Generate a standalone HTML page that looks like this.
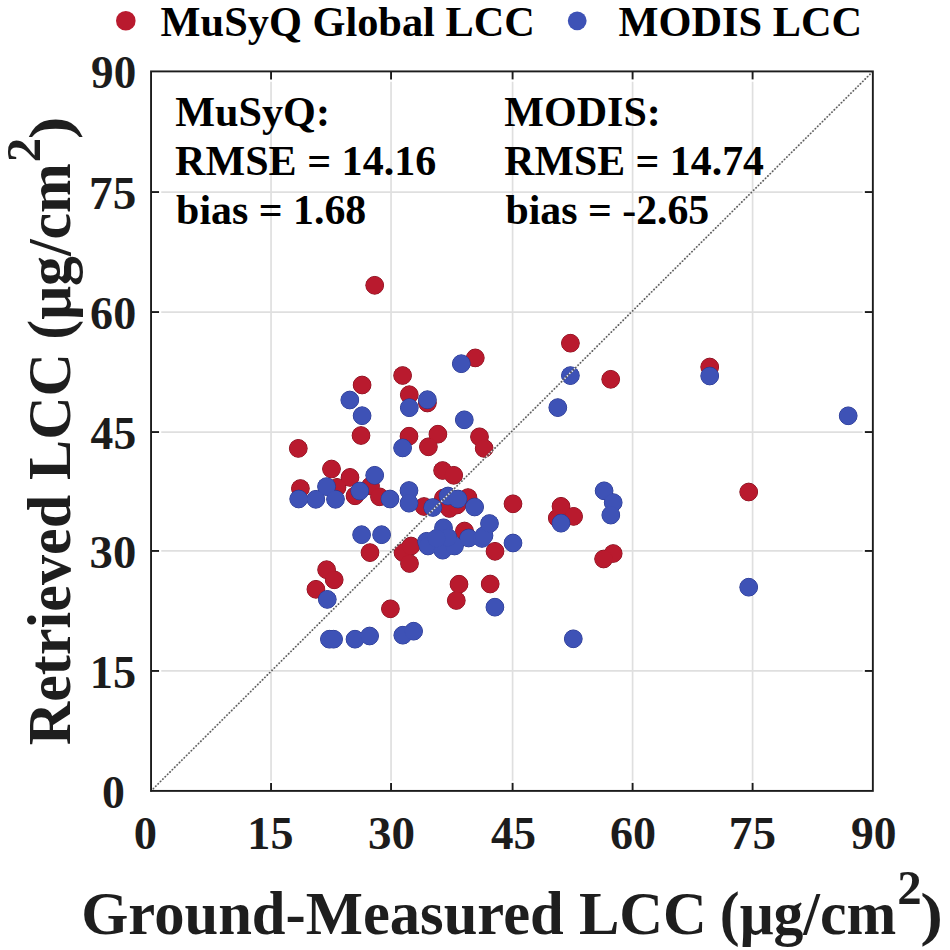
<!DOCTYPE html><html><head><meta charset="utf-8"><style>html,body{margin:0;padding:0;background:#fff;overflow:hidden}svg{display:block}text{font-family:"Liberation Serif",serif;font-weight:bold}</style></head><body><svg width="950" height="950" viewBox="0 0 950 950"><rect width="950" height="950" fill="#fff"/><g stroke="#dfdfdf" stroke-width="1.7"><line x1="271.05" y1="81.7" x2="271.05" y2="780.6999999999999"/><line x1="161.25" y1="670.95" x2="862.65" y2="670.95"/><line x1="391.05" y1="81.7" x2="391.05" y2="780.6999999999999"/><line x1="161.25" y1="550.95" x2="862.65" y2="550.95"/><line x1="512.6" y1="81.7" x2="512.6" y2="780.6999999999999"/><line x1="161.25" y1="432.05" x2="862.65" y2="432.05"/><line x1="632.6" y1="81.7" x2="632.6" y2="780.6999999999999"/><line x1="161.25" y1="312.05" x2="862.65" y2="312.05"/><line x1="752.6" y1="81.7" x2="752.6" y2="780.6999999999999"/><line x1="161.25" y1="192.05" x2="862.65" y2="192.05"/></g><g fill="#7e0e1c" stroke="#7e0e1c" stroke-width="1.0"><circle cx="374.7" cy="285.3" r="8.85"/><circle cx="362.1" cy="385" r="8.85"/><circle cx="402.6" cy="375.5" r="8.85"/><circle cx="409.3" cy="394.7" r="8.85"/><circle cx="427.4" cy="403" r="8.85"/><circle cx="475.3" cy="357.9" r="8.85"/><circle cx="361" cy="435.5" r="8.85"/><circle cx="409" cy="436.2" r="8.85"/><circle cx="437.9" cy="434.2" r="8.85"/><circle cx="428.4" cy="446.8" r="8.85"/><circle cx="479.5" cy="436.8" r="8.85"/><circle cx="484.2" cy="448.4" r="8.85"/><circle cx="298.3" cy="448.4" r="8.85"/><circle cx="331.5" cy="469" r="8.85"/><circle cx="350" cy="477.4" r="8.85"/><circle cx="300.4" cy="488.5" r="8.85"/><circle cx="337" cy="487.4" r="8.85"/><circle cx="370.5" cy="486" r="8.85"/><circle cx="355" cy="495.8" r="8.85"/><circle cx="379.5" cy="496.8" r="8.85"/><circle cx="424" cy="506.5" r="8.85"/><circle cx="442.6" cy="470.5" r="8.85"/><circle cx="453.7" cy="475.3" r="8.85"/><circle cx="443.5" cy="498" r="8.85"/><circle cx="468" cy="497.6" r="8.85"/><circle cx="449.4" cy="508.5" r="8.85"/><circle cx="457" cy="505" r="8.85"/><circle cx="513" cy="503.8" r="8.85"/><circle cx="464.5" cy="531" r="8.85"/><circle cx="495" cy="551.3" r="8.85"/><circle cx="370" cy="552.6" r="8.85"/><circle cx="403" cy="552.6" r="8.85"/><circle cx="411" cy="546" r="8.85"/><circle cx="409.5" cy="563.5" r="8.85"/><circle cx="459" cy="584.2" r="8.85"/><circle cx="456.3" cy="600.5" r="8.85"/><circle cx="490.2" cy="584" r="8.85"/><circle cx="390.4" cy="608.8" r="8.85"/><circle cx="326.6" cy="569.7" r="8.85"/><circle cx="334.2" cy="579.8" r="8.85"/><circle cx="315.9" cy="589.3" r="8.85"/><circle cx="561" cy="506.3" r="8.85"/><circle cx="573.6" cy="516.4" r="8.85"/><circle cx="557.3" cy="518.1" r="8.85"/><circle cx="613.2" cy="553.5" r="8.85"/><circle cx="603.6" cy="559" r="8.85"/><circle cx="570.4" cy="343.2" r="8.85"/><circle cx="610.7" cy="379.3" r="8.85"/><circle cx="709.7" cy="367" r="8.85"/><circle cx="748.7" cy="492" r="8.85"/></g><g fill="#b91a2e"><circle cx="374.7" cy="285.3" r="8.85"/><circle cx="362.1" cy="385" r="8.85"/><circle cx="402.6" cy="375.5" r="8.85"/><circle cx="409.3" cy="394.7" r="8.85"/><circle cx="427.4" cy="403" r="8.85"/><circle cx="475.3" cy="357.9" r="8.85"/><circle cx="361" cy="435.5" r="8.85"/><circle cx="409" cy="436.2" r="8.85"/><circle cx="437.9" cy="434.2" r="8.85"/><circle cx="428.4" cy="446.8" r="8.85"/><circle cx="479.5" cy="436.8" r="8.85"/><circle cx="484.2" cy="448.4" r="8.85"/><circle cx="298.3" cy="448.4" r="8.85"/><circle cx="331.5" cy="469" r="8.85"/><circle cx="350" cy="477.4" r="8.85"/><circle cx="300.4" cy="488.5" r="8.85"/><circle cx="337" cy="487.4" r="8.85"/><circle cx="370.5" cy="486" r="8.85"/><circle cx="355" cy="495.8" r="8.85"/><circle cx="379.5" cy="496.8" r="8.85"/><circle cx="424" cy="506.5" r="8.85"/><circle cx="442.6" cy="470.5" r="8.85"/><circle cx="453.7" cy="475.3" r="8.85"/><circle cx="443.5" cy="498" r="8.85"/><circle cx="468" cy="497.6" r="8.85"/><circle cx="449.4" cy="508.5" r="8.85"/><circle cx="457" cy="505" r="8.85"/><circle cx="513" cy="503.8" r="8.85"/><circle cx="464.5" cy="531" r="8.85"/><circle cx="495" cy="551.3" r="8.85"/><circle cx="370" cy="552.6" r="8.85"/><circle cx="403" cy="552.6" r="8.85"/><circle cx="411" cy="546" r="8.85"/><circle cx="409.5" cy="563.5" r="8.85"/><circle cx="459" cy="584.2" r="8.85"/><circle cx="456.3" cy="600.5" r="8.85"/><circle cx="490.2" cy="584" r="8.85"/><circle cx="390.4" cy="608.8" r="8.85"/><circle cx="326.6" cy="569.7" r="8.85"/><circle cx="334.2" cy="579.8" r="8.85"/><circle cx="315.9" cy="589.3" r="8.85"/><circle cx="561" cy="506.3" r="8.85"/><circle cx="573.6" cy="516.4" r="8.85"/><circle cx="557.3" cy="518.1" r="8.85"/><circle cx="613.2" cy="553.5" r="8.85"/><circle cx="603.6" cy="559" r="8.85"/><circle cx="570.4" cy="343.2" r="8.85"/><circle cx="610.7" cy="379.3" r="8.85"/><circle cx="709.7" cy="367" r="8.85"/><circle cx="748.7" cy="492" r="8.85"/></g><g fill="#27358c" stroke="#27358c" stroke-width="1.0"><circle cx="349.8" cy="400" r="8.85"/><circle cx="362.1" cy="415.7" r="8.85"/><circle cx="409.3" cy="407.7" r="8.85"/><circle cx="427.4" cy="399.7" r="8.85"/><circle cx="461.3" cy="363.7" r="8.85"/><circle cx="464.3" cy="419.8" r="8.85"/><circle cx="402.6" cy="447.9" r="8.85"/><circle cx="374.7" cy="475.3" r="8.85"/><circle cx="326.5" cy="486.6" r="8.85"/><circle cx="298.7" cy="499" r="8.85"/><circle cx="315.8" cy="499.3" r="8.85"/><circle cx="335.5" cy="499.3" r="8.85"/><circle cx="359.8" cy="491" r="8.85"/><circle cx="390" cy="499" r="8.85"/><circle cx="409" cy="490.5" r="8.85"/><circle cx="409" cy="503.2" r="8.85"/><circle cx="432.8" cy="507.5" r="8.85"/><circle cx="448" cy="496" r="8.85"/><circle cx="458" cy="499" r="8.85"/><circle cx="474.6" cy="507" r="8.85"/><circle cx="443.5" cy="527.8" r="8.85"/><circle cx="426.6" cy="541.3" r="8.85"/><circle cx="428" cy="546" r="8.85"/><circle cx="442.7" cy="550.2" r="8.85"/><circle cx="454.5" cy="546" r="8.85"/><circle cx="468.7" cy="538" r="8.85"/><circle cx="482" cy="538.4" r="8.85"/><circle cx="484" cy="535.6" r="8.85"/><circle cx="489.5" cy="523.5" r="8.85"/><circle cx="513" cy="543" r="8.85"/><circle cx="361.6" cy="534.7" r="8.85"/><circle cx="381.6" cy="534.7" r="8.85"/><circle cx="327.3" cy="599.4" r="8.85"/><circle cx="329.4" cy="639.2" r="8.85"/><circle cx="333.6" cy="639.2" r="8.85"/><circle cx="355" cy="639.2" r="8.85"/><circle cx="369.6" cy="636" r="8.85"/><circle cx="402.8" cy="635.2" r="8.85"/><circle cx="413.6" cy="631.2" r="8.85"/><circle cx="494.9" cy="607.2" r="8.85"/><circle cx="561" cy="523.2" r="8.85"/><circle cx="604.1" cy="490.8" r="8.85"/><circle cx="613.2" cy="502.6" r="8.85"/><circle cx="610.8" cy="515.1" r="8.85"/><circle cx="570.4" cy="375.6" r="8.85"/><circle cx="557.8" cy="407.6" r="8.85"/><circle cx="709.7" cy="376" r="8.85"/><circle cx="848.2" cy="415.8" r="8.85"/><circle cx="748.7" cy="587.2" r="8.85"/><circle cx="573.3" cy="638.8" r="8.85"/><circle cx="447.9" cy="537.5" r="8.85"/><circle cx="436.5" cy="538.4" r="8.85"/></g><g fill="#3e52b6"><circle cx="349.8" cy="400" r="8.85"/><circle cx="362.1" cy="415.7" r="8.85"/><circle cx="409.3" cy="407.7" r="8.85"/><circle cx="427.4" cy="399.7" r="8.85"/><circle cx="461.3" cy="363.7" r="8.85"/><circle cx="464.3" cy="419.8" r="8.85"/><circle cx="402.6" cy="447.9" r="8.85"/><circle cx="374.7" cy="475.3" r="8.85"/><circle cx="326.5" cy="486.6" r="8.85"/><circle cx="298.7" cy="499" r="8.85"/><circle cx="315.8" cy="499.3" r="8.85"/><circle cx="335.5" cy="499.3" r="8.85"/><circle cx="359.8" cy="491" r="8.85"/><circle cx="390" cy="499" r="8.85"/><circle cx="409" cy="490.5" r="8.85"/><circle cx="409" cy="503.2" r="8.85"/><circle cx="432.8" cy="507.5" r="8.85"/><circle cx="448" cy="496" r="8.85"/><circle cx="458" cy="499" r="8.85"/><circle cx="474.6" cy="507" r="8.85"/><circle cx="443.5" cy="527.8" r="8.85"/><circle cx="426.6" cy="541.3" r="8.85"/><circle cx="428" cy="546" r="8.85"/><circle cx="442.7" cy="550.2" r="8.85"/><circle cx="454.5" cy="546" r="8.85"/><circle cx="468.7" cy="538" r="8.85"/><circle cx="482" cy="538.4" r="8.85"/><circle cx="484" cy="535.6" r="8.85"/><circle cx="489.5" cy="523.5" r="8.85"/><circle cx="513" cy="543" r="8.85"/><circle cx="361.6" cy="534.7" r="8.85"/><circle cx="381.6" cy="534.7" r="8.85"/><circle cx="327.3" cy="599.4" r="8.85"/><circle cx="329.4" cy="639.2" r="8.85"/><circle cx="333.6" cy="639.2" r="8.85"/><circle cx="355" cy="639.2" r="8.85"/><circle cx="369.6" cy="636" r="8.85"/><circle cx="402.8" cy="635.2" r="8.85"/><circle cx="413.6" cy="631.2" r="8.85"/><circle cx="494.9" cy="607.2" r="8.85"/><circle cx="561" cy="523.2" r="8.85"/><circle cx="604.1" cy="490.8" r="8.85"/><circle cx="613.2" cy="502.6" r="8.85"/><circle cx="610.8" cy="515.1" r="8.85"/><circle cx="570.4" cy="375.6" r="8.85"/><circle cx="557.8" cy="407.6" r="8.85"/><circle cx="709.7" cy="376" r="8.85"/><circle cx="848.2" cy="415.8" r="8.85"/><circle cx="748.7" cy="587.2" r="8.85"/><circle cx="573.3" cy="638.8" r="8.85"/><circle cx="447.9" cy="537.5" r="8.85"/><circle cx="436.5" cy="538.4" r="8.85"/></g><line x1="151.05" y1="790.9" x2="872.85" y2="71.4" stroke="#f0f0f0" stroke-width="1.6" stroke-dasharray="1.5 1.85" stroke-dashoffset="2.42"/><line x1="151.05" y1="790.9" x2="872.85" y2="71.4" stroke="#5c5c5c" stroke-width="1.85" stroke-dasharray="0.01 3.34" stroke-linecap="round"/><g stroke="#1c1c1c" stroke-width="1.9"><line x1="271.05" y1="790.9" x2="271.05" y2="782.9"/><line x1="271.05" y1="71.4" x2="271.05" y2="79.4"/><line x1="151.05" y1="670.95" x2="159.05" y2="670.95"/><line x1="872.85" y1="670.95" x2="864.85" y2="670.95"/><line x1="391.05" y1="790.9" x2="391.05" y2="782.9"/><line x1="391.05" y1="71.4" x2="391.05" y2="79.4"/><line x1="151.05" y1="550.95" x2="159.05" y2="550.95"/><line x1="872.85" y1="550.95" x2="864.85" y2="550.95"/><line x1="512.6" y1="790.9" x2="512.6" y2="782.9"/><line x1="512.6" y1="71.4" x2="512.6" y2="79.4"/><line x1="151.05" y1="432.05" x2="159.05" y2="432.05"/><line x1="872.85" y1="432.05" x2="864.85" y2="432.05"/><line x1="632.6" y1="790.9" x2="632.6" y2="782.9"/><line x1="632.6" y1="71.4" x2="632.6" y2="79.4"/><line x1="151.05" y1="312.05" x2="159.05" y2="312.05"/><line x1="872.85" y1="312.05" x2="864.85" y2="312.05"/><line x1="752.6" y1="790.9" x2="752.6" y2="782.9"/><line x1="752.6" y1="71.4" x2="752.6" y2="79.4"/><line x1="151.05" y1="192.05" x2="159.05" y2="192.05"/><line x1="872.85" y1="192.05" x2="864.85" y2="192.05"/></g><rect x="151.05" y="71.4" width="721.8" height="719.5" fill="none" stroke="#1c1c1c" stroke-width="1.9"/><g font-size="46.0" fill="#1c1c1c"><text x="133.78" y="849.00" textLength="23.24" lengthAdjust="spacingAndGlyphs">0</text><text x="101.91" y="807.60" textLength="22.88" lengthAdjust="spacingAndGlyphs">0</text><text x="247.39" y="849.00" textLength="46.11" lengthAdjust="spacingAndGlyphs">15</text><text x="89.87" y="687.65" textLength="46.34" lengthAdjust="spacingAndGlyphs">15</text><text x="367.90" y="849.00" textLength="47.10" lengthAdjust="spacingAndGlyphs">30</text><text x="89.57" y="567.65" textLength="46.66" lengthAdjust="spacingAndGlyphs">30</text><text x="490.97" y="849.00" textLength="45.04" lengthAdjust="spacingAndGlyphs">45</text><text x="90.61" y="448.75" textLength="45.57" lengthAdjust="spacingAndGlyphs">45</text><text x="609.95" y="849.00" textLength="46.11" lengthAdjust="spacingAndGlyphs">60</text><text x="90.10" y="328.75" textLength="46.11" lengthAdjust="spacingAndGlyphs">60</text><text x="728.87" y="849.00" textLength="47.23" lengthAdjust="spacingAndGlyphs">75</text><text x="89.02" y="208.75" textLength="47.23" lengthAdjust="spacingAndGlyphs">75</text><text x="851.01" y="849.00" textLength="45.47" lengthAdjust="spacingAndGlyphs">90</text><text x="91.12" y="88.10" textLength="45.04" lengthAdjust="spacingAndGlyphs">90</text></g><text x="160.61" y="35.8" font-size="42.6" fill="#000" textLength="374.30" lengthAdjust="spacingAndGlyphs">MuSyQ Global LCC</text><text x="618.51" y="35.8" font-size="42.6" fill="#000" textLength="243.62" lengthAdjust="spacingAndGlyphs">MODIS LCC</text><text x="175.21" y="126.1" font-size="42.6" fill="#000" textLength="154.75" lengthAdjust="spacingAndGlyphs">MuSyQ:</text><text x="175.11" y="175.1" font-size="42.6" fill="#000" textLength="261.14" lengthAdjust="spacingAndGlyphs">RMSE = 14.16</text><text x="176.12" y="224.3" font-size="42.6" fill="#000" textLength="190.17" lengthAdjust="spacingAndGlyphs">bias = 1.68</text><text x="504.31" y="126.1" font-size="42.6" fill="#000" textLength="156.59" lengthAdjust="spacingAndGlyphs">MODIS:</text><text x="504.32" y="175.1" font-size="42.6" fill="#000" textLength="259.64" lengthAdjust="spacingAndGlyphs">RMSE = 14.74</text><text x="505.52" y="224.3" font-size="42.6" fill="#000" textLength="203.74" lengthAdjust="spacingAndGlyphs">bias = -2.65</text><text x="81.24" y="934.0" font-size="61.5" fill="#1e1e1e" textLength="625.58" lengthAdjust="spacingAndGlyphs">Ground-Measured LCC</text><text x="719.79" y="934.0" font-size="61.5" fill="#1e1e1e" textLength="176.41" lengthAdjust="spacingAndGlyphs">(μg/cm</text><text x="897.26" y="904.0" font-size="48" fill="#1e1e1e" textLength="24.48" lengthAdjust="spacingAndGlyphs">2</text><text x="920.23" y="934.0" font-size="60" fill="#1e1e1e" textLength="22.65" lengthAdjust="spacingAndGlyphs">)</text><circle cx="125.8" cy="20.8" r="9.8" fill="#b91a2e"/><circle cx="577.2" cy="20.8" r="9.4" fill="#3e52b6"/><g transform="translate(0,950) rotate(-90)"><text x="204.82" y="70.1" font-size="61.5" fill="#1e1e1e" textLength="392.12" lengthAdjust="spacingAndGlyphs">Retrieved LCC</text><text x="610.28" y="70.1" font-size="61.5" fill="#1e1e1e" textLength="176.61" lengthAdjust="spacingAndGlyphs">(μg/cm</text><text x="787.76" y="39.8" font-size="48" fill="#1e1e1e" textLength="24.48" lengthAdjust="spacingAndGlyphs">2</text><text x="810.73" y="70.1" font-size="60" fill="#1e1e1e" textLength="22.65" lengthAdjust="spacingAndGlyphs">)</text></g></svg></body></html>
